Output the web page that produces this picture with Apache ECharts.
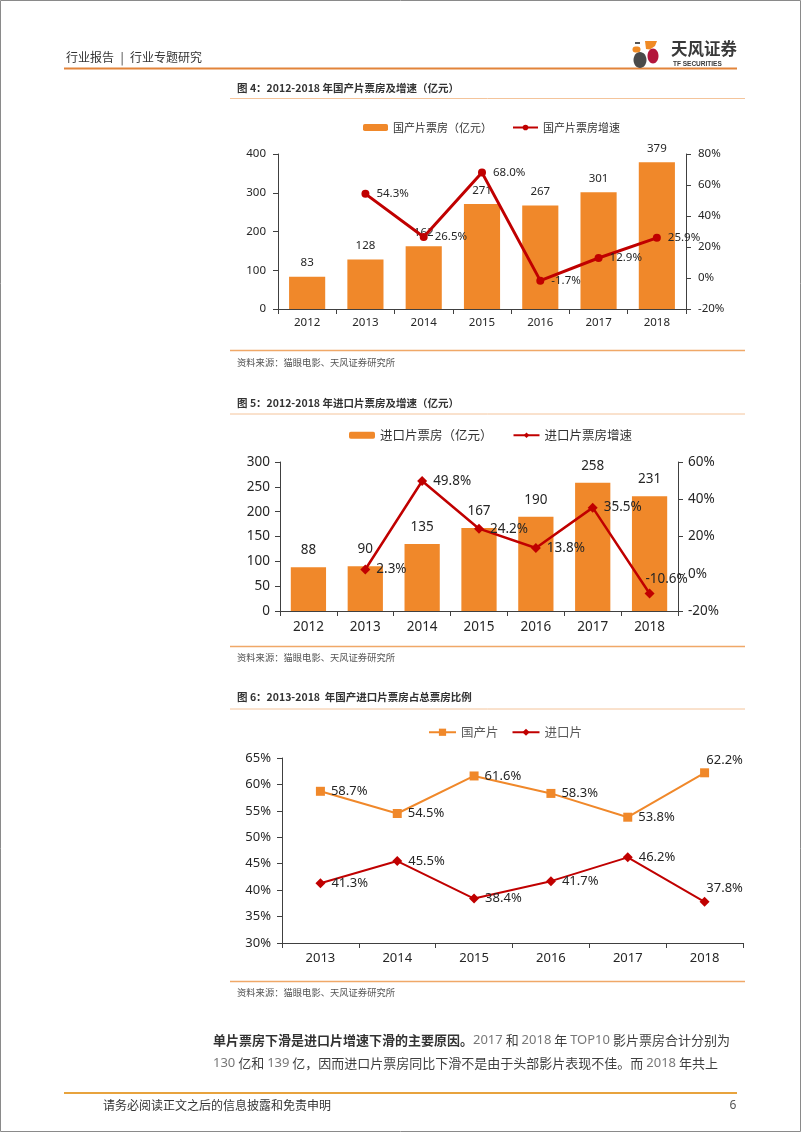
<!DOCTYPE html>
<html>
<head>
<meta charset="utf-8">
<script src="https://cdn.jsdelivr.net/npm/echarts@6/dist/echarts.min.js"></script>
<style>
html,body{margin:0;padding:0;background:#fff;}
#c{width:802px;height:1133px;}
</style>
</head>
<body>
<div id="c"></div>
<script>
// ---- data ----
const years1 = ['2012','2013','2014','2015','2016','2017','2018'];
const domesticBox = [83,128,162,271,267,301,379];
const domesticGrowth = [null,54.3,26.5,68.0,-1.7,12.9,25.9];

const years2 = ['2012','2013','2014','2015','2016','2017','2018'];
const importBox = [88,90,135,167,190,258,231];
const importGrowth = [null,2.3,49.8,24.2,13.8,35.5,-10.6];

const years3 = ['2013','2014','2015','2016','2017','2018'];
const domesticShare = [58.7,54.5,61.6,58.3,53.8,62.2];
const importShare = [41.3,45.5,38.4,41.7,46.2,37.8];

// ---- styles ----
const FONT = '"Noto Sans", "Noto Sans CJK SC", sans-serif';
const CJK = '"Noto Sans CJK SC", "Noto Sans", sans-serif';
const ORANGE = '#F0882A';
const RED = '#C00000';
const AX = '#404040';
const TXT = '#262626';
const pct = p => (p.value == null ? '' : Number(p.value).toFixed(1) + '%');

function yAx(grid, min, max, interval, fs, margin, pctFmt, pos) {
  return {
    type: 'value', gridIndex: grid, min: min, max: max, interval: interval, position: pos,
    axisLine: {show: true, lineStyle: {color: AX, width: 1}},
    axisTick: {show: true, length: 5, lineStyle: {color: AX}},
    splitLine: {show: false},
    axisLabel: {color: TXT, fontSize: fs, fontFamily: FONT, margin: margin,
      formatter: pctFmt ? '{value}%' : '{value}'}
  };
}
function xAx(grid, data, fs, margin) {
  return {
    type: 'category', gridIndex: grid, data: data, boundaryGap: true,
    axisLine: {show: true, lineStyle: {color: AX, width: 1}},
    axisTick: {show: true, length: 5, alignWithLabel: false, lineStyle: {color: AX}},
    axisLabel: {color: TXT, fontSize: fs, fontFamily: FONT, margin: margin}
  };
}

// ---- page graphics ----
const g = [];
function txt(x, y, s, size, color, weight, family, align) {
  g.push({type: 'text', silent: true, style: {text: s, x: x, y: y, fontSize: size, fill: color,
    fontWeight: weight || 'normal', fontFamily: family || CJK, align: align || 'left', verticalAlign: 'middle'}});
}
function hline(x1, x2, y, color, w) {
  g.push({type: 'line', silent: true, shape: {x1: x1, y1: y, x2: x2, y2: y}, style: {stroke: color, lineWidth: w}});
}
// border
g.push({type: 'rect', silent: true, shape: {x: 0.5, y: 0.5, width: 800, height: 1131}, style: {fill: 'none', stroke: '#8a8a8a', lineWidth: 1}});
// header
txt(66, 57, '行业报告', 12, '#333');
txt(122, 57, '|', 12, '#333', 'normal', CJK, 'center');
txt(130, 57, '行业专题研究', 12, '#333');
hline(64, 737, 68.5, '#E2843A', 2);
// logo
g.push({type: 'rect', silent: true, shape: {x: 635, y: 42, width: 5, height: 2}, style: {fill: '#555'}});
g.push({type: 'polygon', silent: true, shape: {points: [[645,41],[657,41],[655,46],[650,49.5],[646,49]]}, style: {fill: '#F08A24'}});
g.push({type: 'rect', silent: true, shape: {x: 632.5, y: 46.5, width: 8, height: 6, r: 3}, style: {fill: '#F08A24'}});
g.push({type: 'ellipse', silent: true, shape: {cx: 640, cy: 60, rx: 6.5, ry: 8}, style: {fill: '#4a4a4a'}});
g.push({type: 'ellipse', silent: true, shape: {cx: 653, cy: 56, rx: 5.5, ry: 7.5}, style: {fill: '#B3163C'}});
txt(671, 49, '天风证券', 16.5, '#3a3a3a', 'bold');
txt(673, 64, 'TF SECURITIES', 6.5, '#3a3a3a', 'bold', '"Liberation Sans", sans-serif');

// figure titles, rules, sources
const titleCol = '#333';
const ruleCol = '#F4C49B';
txt(237, 88, '图 4：2012-2018 年国产片票房及增速（亿元）', 10.5, titleCol, 'bold');
hline(230, 745, 98.5, ruleCol, 1);
hline(230, 745, 350.5, '#F0A868', 1.5);
txt(237, 362.5, '资料来源：猫眼电影、天风证券研究所', 9.3, '#555');

txt(237, 403, '图 5：2012-2018 年进口片票房及增速（亿元）', 10.5, titleCol, 'bold');
hline(230, 745, 414, ruleCol, 1);
hline(230, 745, 646.5, '#F0A868', 1.5);
txt(237, 657.5, '资料来源：猫眼电影、天风证券研究所', 9.3, '#555');

txt(237, 697, '图 6：2013-2018  年国产进口片票房占总票房比例', 10.5, titleCol, 'bold');
hline(230, 745, 709, ruleCol, 1);
hline(230, 745, 981.5, '#F0A868', 1.5);
txt(237, 992.5, '资料来源：猫眼电影、天风证券研究所', 9.3, '#555');

// paragraph
g.push({type: 'text', silent: true, style: {
  x: 213, y: 1040, verticalAlign: 'middle', fontFamily: CJK, fontSize: 13, fill: '#404040',
  text: '{b|单片票房下滑是进口片增速下滑的主要原因。}{n|2017} 和 {n|2018} 年 {n|TOP10} 影片票房合计分别为',
  rich: {b: {fontWeight: 'bold', fill: '#333', fontSize: 13, fontFamily: CJK},
         n: {fill: '#777', fontSize: 13, fontFamily: FONT}}
}});
g.push({type: 'text', silent: true, style: {
  x: 213, y: 1063, verticalAlign: 'middle', fontFamily: CJK, fontSize: 13, fill: '#404040',
  text: '{n|130} 亿和 {n|139} 亿，因而进口片票房同比下滑不是由于头部影片表现不佳。而 {n|2018} 年共上',
  rich: {n: {fill: '#777', fontSize: 13, fontFamily: FONT}}
}});
// footer
hline(64, 737, 1093, '#E8A33D', 2);
txt(103, 1105.5, '请务必阅读正文之后的信息披露和免责申明', 12, '#333');
txt(733, 1105.5, '6', 12, '#555', 'normal', FONT, 'center');

const option = {
  animation: false,
  backgroundColor: '#fff',
  textStyle: {fontFamily: FONT},
  grid: [
    {left: 278, top: 154, width: 408, height: 155, containLabel: false},
    {left: 280, top: 462, width: 398, height: 149, containLabel: false},
    {left: 282, top: 758, width: 461, height: 185, containLabel: false}
  ],
  legend: [
    {data: ['国产片票房（亿元）', '国产片票房增速'], left: 363, top: 122, padding: 0,
     itemWidth: 25, itemHeight: 7, itemGap: 20,
     textStyle: {fontSize: 11, color: '#333', fontFamily: CJK}},
    {data: ['进口片票房（亿元）', '进口片票房增速'], left: 349, top: 429, padding: 0,
     itemWidth: 26, itemHeight: 7, itemGap: 20,
     textStyle: {fontSize: 12.5, color: '#333', fontFamily: CJK}},
    {data: ['国产片', '进口片'], left: 428, top: 726, padding: 0,
     itemWidth: 27, itemHeight: 9, itemGap: 13,
     textStyle: {fontSize: 12.5, color: '#595959', fontFamily: CJK}}
  ],
  xAxis: [
    xAx(0, years1, 11.5, 8),
    xAx(1, years2, 13.5, 9),
    xAx(2, years3, 13, 9)
  ],
  yAxis: [
    yAx(0, 0, 400, 100, 11.5, 12, false, 'left'),
    yAx(0, -20, 80, 20, 11.5, 12, true, 'right'),
    yAx(1, 0, 300, 50, 13.5, 10, false, 'left'),
    yAx(1, -20, 60, 20, 13.5, 10, true, 'right'),
    yAx(2, 30, 65, 5, 13, 11, true, 'left')
  ],
  series: [
    {name: '国产片票房（亿元）', type: 'bar', xAxisIndex: 0, yAxisIndex: 0, data: domesticBox,
     barWidth: '62%', itemStyle: {color: ORANGE},
     label: {show: true, position: 'top', distance: 8, color: TXT, fontSize: 11.5, fontFamily: FONT}},
    {name: '国产片票房增速', type: 'line', xAxisIndex: 0, yAxisIndex: 1, data: domesticGrowth,
     symbol: 'circle', symbolSize: 8, z: 5,
     lineStyle: {color: RED, width: 3}, itemStyle: {color: RED},
     label: {show: true, position: 'right', distance: 7, color: TXT, fontSize: 11.5, fontFamily: FONT, formatter: pct}},
    {name: '进口片票房（亿元）', type: 'bar', xAxisIndex: 1, yAxisIndex: 2, data: importBox,
     barWidth: '62%', itemStyle: {color: ORANGE},
     label: {show: true, position: 'top', distance: 10, color: TXT, fontSize: 13.5, fontFamily: FONT}},
    {name: '进口片票房增速', type: 'line', xAxisIndex: 1, yAxisIndex: 3,
     data: importGrowth.map((v, i) => i === importGrowth.length - 1
       ? {value: v, label: {position: 'top', distance: 3, offset: [17, 0]}} : v),
     symbol: 'diamond', symbolSize: 10, z: 5,
     lineStyle: {color: RED, width: 2.5}, itemStyle: {color: RED},
     label: {show: true, position: 'right', distance: 6, color: TXT, fontSize: 13.5, fontFamily: FONT, formatter: pct}},
    {name: '国产片', type: 'line', xAxisIndex: 2, yAxisIndex: 4,
     data: domesticShare.map((v, i) => i === domesticShare.length - 1
       ? {value: v, label: {position: 'top', distance: 2, offset: [20, 0]}} : v),
     symbol: 'rect', symbolSize: 9,
     lineStyle: {color: ORANGE, width: 2}, itemStyle: {color: ORANGE},
     label: {show: true, position: 'right', distance: 6, color: TXT, fontSize: 13, fontFamily: FONT, formatter: pct}},
    {name: '进口片', type: 'line', xAxisIndex: 2, yAxisIndex: 4,
     data: importShare.map((v, i) => i === importShare.length - 1
       ? {value: v, label: {position: 'top', distance: 2, offset: [20, 0]}} : v),
     symbol: 'diamond', symbolSize: 10,
     lineStyle: {color: RED, width: 2}, itemStyle: {color: RED},
     label: {show: true, position: 'right', distance: 6, color: TXT, fontSize: 13, fontFamily: FONT, formatter: pct}}
  ],
  graphic: g
};

const chart = echarts.init(document.getElementById('c'), null, {renderer: 'canvas', width: 802, height: 1133});
chart.setOption(option);
</script>
</body>
</html>
